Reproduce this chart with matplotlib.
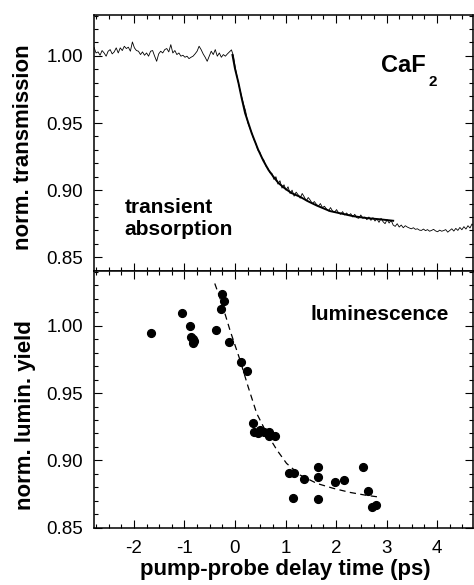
import numpy as np
import matplotlib
matplotlib.use("Agg")
import matplotlib.pyplot as plt
from matplotlib.ticker import MultipleLocator, FormatStrFormatter

plt.rcParams['font.family'] = ['Liberation Sans', 'DejaVu Sans']
plt.rcParams['axes.unicode_minus'] = False

# transient absorption trace on a 0.04 ps grid from -2.83 ps
t0 = -2.83
dt = 0.04
trans = [
    # flat part before time zero
    1.0035, 1.0065, 1.0022, 1.0030, 1.0005, 1.0040, 1.0022, 0.9998, 1.0035, 1.0047,
    1.0015, 1.0030, 1.0060, 1.0022, 1.0060, 1.0040, 1.0072, 1.0055, 1.0065, 1.0035,
    1.0104, 1.0060, 1.0040, 1.0035, 1.0010, 1.0030, 1.0005, 1.0022, 0.9998, 1.0035,
    1.0040, 0.9998, 0.9960, 1.0015, 1.0035, 1.0022, 1.0047,
    1.0055, 1.0030, 1.0084, 1.0022, 1.0040, 1.0010, 1.0022, 0.9998, 1.0005, 0.9990,
    0.9998, 0.9980, 0.9990, 0.9998, 1.0015, 1.0035, 1.0072, 1.0047, 1.0015, 0.9990,
    0.9960, 0.9998, 1.0035, 1.0010, 1.0047, 0.9998, 1.0022, 0.9990, 1.0010, 0.9998,
    1.0015,
    1.0030, 1.0045, 1.0000,
    # decay
    0.9905, 0.9830, 0.9760, 0.9700, 0.9640, 0.9590, 0.9505, 0.9465, 0.9430, 0.9380,
    0.9350, 0.9300, 0.9285, 0.9240, 0.9225, 0.9180, 0.9165, 0.9130, 0.9125, 0.9080,
    0.9100, 0.9045, 0.9070, 0.9015, 0.9040, 0.9000, 0.9025, 0.8975, 0.9000, 0.8955,
    0.8985, 0.8965, 0.8940, 0.8975, 0.8950, 0.8920, 0.8945, 0.8925, 0.8900, 0.8915,
    0.8895, 0.8880, 0.8900, 0.8870, 0.8880, 0.8860, 0.8845, 0.8870, 0.8845, 0.8835,
    0.8855, 0.8830, 0.8820, 0.8840, 0.8815, 0.8830, 0.8810, 0.8825, 0.8800, 0.8820,
    0.8795, 0.8790, 0.8815, 0.8790, 0.8800, 0.8780, 0.8800, 0.8775, 0.8795, 0.8770,
    0.8785, 0.8760, 0.8790, 0.8765, 0.8750, 0.8780, 0.8755, 0.8775,
    # tail
    0.8740, 0.8730, 0.8750, 0.8725, 0.8740, 0.8720, 0.8735, 0.8725, 0.8718, 0.8712,
    0.8720, 0.8708, 0.8712, 0.8702, 0.8700, 0.8710, 0.8698, 0.8706, 0.8694, 0.8700,
    0.8708, 0.8696, 0.8690, 0.8702, 0.8694, 0.8699, 0.8706, 0.8687, 0.8700, 0.8712,
    0.8695, 0.8715, 0.8700, 0.8722, 0.8705, 0.8728, 0.8710, 0.8735, 0.8718, 0.8748,
    0.8730,
]

# fit through the transmission decay
fit_t = [-0.05, 0.00, 0.07, 0.13, 0.20, 0.33, 0.46, 0.56, 0.66, 0.76, 0.86, 0.99,
         1.12, 1.29, 1.45, 1.62, 1.88, 2.10, 2.34, 2.60, 2.86, 3.13]
fit_y = [1.0007, 0.9905, 0.9797, 0.9689, 0.9574, 0.9425, 0.9300, 0.9220, 0.9152,
         0.9100, 0.9053, 0.9012, 0.8978, 0.8950, 0.8916, 0.8885, 0.8844, 0.8826,
         0.8806, 0.8792, 0.8783, 0.8772]

# luminescence yield points
lum_t = [-1.66, -1.04, -0.89, -0.87, -0.84, -0.81, -0.83, -0.38, -0.28, -0.26,
         -0.22, -0.12, 0.12, 0.24, 0.36, 0.38, 0.46, 0.50, 0.57, 0.67, 0.68, 0.79,
         1.06, 1.16, 1.14, 1.37, 1.65, 1.65, 1.64, 1.98, 2.16, 2.54, 2.64, 2.71, 2.79]
lum_y = [0.9946, 1.0092, 0.9998, 0.9920, 0.9900, 0.9886, 0.9870, 0.9968, 1.0121,
         1.0235, 1.0186, 0.9881, 0.9733, 0.9661, 0.9275, 0.9208, 0.9200, 0.9225,
         0.9208, 0.9213, 0.9183, 0.9183, 0.8906, 0.8906, 0.8720, 0.8861, 0.8874,
         0.8953, 0.8713, 0.8842, 0.8854, 0.8950, 0.8770, 0.8656, 0.8668]

# dashed fit through the luminescence points
dash_t = [-0.40, -0.26, -0.10, 0.10, 0.26, 0.43, 0.63, 0.83, 1.02, 1.29, 1.62,
          1.95, 2.28, 2.61, 2.81]
dash_y = [1.0314, 1.0166, 0.9968, 0.9745, 0.9547, 0.9349, 0.9200, 0.9077, 0.8978,
          0.8891, 0.8829, 0.8792, 0.8762, 0.8740, 0.8730]

trans_t = t0 + dt * np.arange(len(trans))

fig = plt.figure(figsize=(4.74, 5.85), dpi=100)
ax1 = fig.add_axes([0.1983, 0.5373, 0.7996, 0.4371])
ax2 = fig.add_axes([0.1983, 0.0979, 0.7996, 0.4394])

ax1.plot(trans_t, trans, color='black', lw=0.6)
ax1.plot(fit_t, fit_y, color='black', lw=1.4)

ax2.plot(lum_t, lum_y, 'o', color='black', ms=5.6, mec='black')
ax2.plot(dash_t, dash_y, color='black', lw=0.9, dashes=(5, 3.5))

ax1.set_ylim(0.840, 1.0305)
ax2.set_ylim(0.850, 1.0409)

for ax in (ax1, ax2):
    ax.set_xlim(-2.79, 4.71)
    ax.xaxis.set_major_locator(MultipleLocator(1))
    ax.xaxis.set_minor_locator(MultipleLocator(0.25))
    ax.yaxis.set_major_locator(MultipleLocator(0.05))
    ax.yaxis.set_minor_locator(MultipleLocator(0.01))
    ax.yaxis.set_major_formatter(FormatStrFormatter('%.2f'))
    ax.tick_params(which='both', direction='in', top=True, right=True,
                   width=0.8, labelsize=13.5)
    ax.tick_params(which='major', length=5.5)
    ax.tick_params(which='minor', length=3)
    ax.tick_params(axis='y', pad=8)
    ax.tick_params(axis='x', pad=9)
    for s in ax.spines.values():
        s.set_linewidth(1.1)

ax1.tick_params(axis='x', labelbottom=False)

ax1.text(2.89, 0.9883, 'CaF', fontsize=17, fontweight='bold', ha='left', va='baseline')
ax1.text(3.82, 0.9777, '2', fontsize=11, fontweight='bold', ha='left', va='baseline')
ax1.text(-2.18, 0.883, 'transient', fontsize=15, fontweight='bold', ha='left', va='baseline')
ax1.text(-2.18, 0.8668, 'absorption', fontsize=15, fontweight='bold', ha='left', va='baseline')
ax2.text(1.485, 1.0042, 'luminescence', fontsize=15, fontweight='bold', ha='left', va='baseline')

fig.text(24 / 474, 1 - 147 / 585, 'norm. transmission', rotation=90, fontsize=16,
         fontweight='bold', ha='center', va='center')
fig.text(25.5 / 474, 1 - 415 / 585, 'norm. lumin. yield', rotation=90, fontsize=16,
         fontweight='bold', ha='center', va='center')
fig.text(285 / 474, 1 - 575 / 585, 'pump-probe delay time (ps)', fontsize=16,
         fontweight='bold', ha='center', va='baseline')

fig.savefig('out.png', dpi=100)
